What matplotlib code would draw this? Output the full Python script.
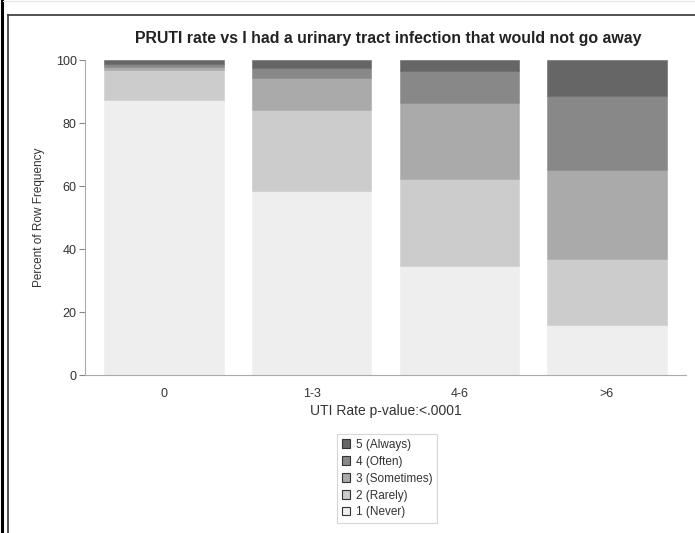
import numpy as np
import matplotlib
matplotlib.use("Agg")
from matplotlib import pyplot as plt
from matplotlib.lines import Line2D
from matplotlib.patches import Patch

plt.rcParams['font.family'] = ['Liberation Sans Narrow', 'Liberation Sans', 'DejaVu Sans']

# categories and stacked percentages
categories = ["0", "1-3", "4-6", ">6"]
never = [87.3, 58.5, 34.6, 16.0]
rarely = [9.5, 25.6, 27.5, 20.7]
sometimes = [1.0, 10.3, 24.2, 28.5]
often = [1.0, 3.0, 10.3, 23.4]
always = [1.2, 2.6, 3.4, 11.4]

series = [never, rarely, sometimes, often, always]
labels = ["1 (Never)", "2 (Rarely)", "3 (Sometimes)", "4 (Often)", "5 (Always)"]
colors = ["#eeeeee", "#cccccc", "#aaaaaa", "#888888", "#666666"]

fig = plt.figure(figsize=(6.95, 5.33), dpi=100)
ax = fig.add_axes([0.1223, 0.2964, 0.8647, 0.591])

x = np.arange(len(categories))
bottom = np.zeros(len(categories))
for vals, col in zip(series, colors):
    ax.bar(x, vals, width=0.81, bottom=bottom, color=col, edgecolor=col, linewidth=0.4)
    bottom += np.array(vals)

ax.set_xlim(-0.535, 3.535)
ax.set_ylim(0, 100)
ax.set_yticks([0, 20, 40, 60, 80, 100])
ax.set_xticks(x)
ax.set_xticklabels(categories)

for s in ["top", "right"]:
    ax.spines[s].set_visible(False)
for s in ["left", "bottom"]:
    ax.spines[s].set_color("#aaaaaa")
    ax.spines[s].set_linewidth(0.8)

ax.tick_params(axis="y", length=4, color="#888888", labelsize=9, labelcolor="#333333", pad=2)
ax.tick_params(axis="x", length=0, labelsize=9, labelcolor="#333333", pad=9)

ax.set_ylabel("Percent of Row Frequency", fontsize=8.5, color="#333333", labelpad=8)
ax.set_xlabel("UTI Rate p-value:<.0001", fontsize=10, color="#333333", labelpad=3)

fig.text(388 / 695, 1 - 38 / 533, "PRUTI rate vs I had a urinary tract infection that would not go away",
         ha="center", va="center", fontsize=11.4, fontweight="bold",
         family=["Liberation Sans", "DejaVu Sans"], color="#222222")

handles = [Patch(facecolor=c, edgecolor="#333333", linewidth=0.8) for c in colors[::-1]]
leg = fig.legend(handles, labels[::-1], loc="upper center",
                 bbox_to_anchor=(387 / 695, 1 - 428 / 533), fontsize=8.5,
                 frameon=True, fancybox=False, edgecolor="#cccccc",
                 handlelength=0.7, handleheight=0.7, handletextpad=0.5,
                 labelspacing=0.42, borderpad=0.4, labelcolor="#333333")
leg.get_frame().set_linewidth(0.8)

# outer frame lines
fig.add_artist(Line2D([1.5 / 695, 1.5 / 695], [0, 1], color="black", linewidth=2.2))
fig.add_artist(Line2D([7.5 / 695, 7.5 / 695], [0, 1 - 15 / 533], color="#333333", linewidth=1.2))
fig.add_artist(Line2D([7.5 / 695, 1], [1 - 15 / 533, 1 - 15 / 533], color="#333333", linewidth=1.2))
fig.add_artist(Line2D([3 / 695, 1], [1 - 0.5 / 533, 1 - 0.5 / 533], color="#e5e5e5", linewidth=0.8))

fig.savefig("out.png", dpi=100)
